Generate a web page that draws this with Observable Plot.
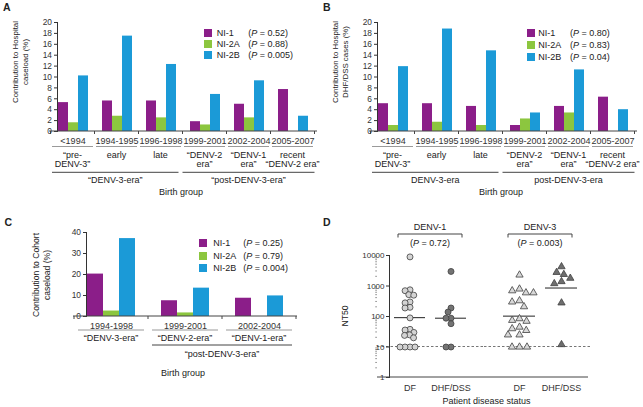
<!DOCTYPE html>
<html><head><meta charset="utf-8">
<script src="https://cdn.jsdelivr.net/npm/d3@7"></script>
<script src="https://cdn.jsdelivr.net/npm/@observablehq/plot@0.6"></script>
<style>
body{margin:0;background:#fff;}
#fig{position:relative;width:643px;height:407px;overflow:hidden;background:#fff;font-family:'Liberation Sans',Arial,Helvetica,sans-serif;color:#222;}
.leg{position:absolute;font-size:9px;}
.leg .row{position:absolute;left:0;height:10px;line-height:10px;white-space:nowrap;width:120px;}
.leg .sw{position:absolute;left:0;top:1px;width:8px;height:8px;}
.leg .nm{position:absolute;top:0;}
.leg .pv{position:absolute;top:0;}
</style></head><body><div id="fig"></div>
<script>
// ---------------- data ----------------
const series = ["NI-1", "NI-2A", "NI-2B"];
const colors = ["#8b1e89", "#8cc63f", "#1b9ad7"];

const catsAB = ["<1994", "1994-1995", "1996-1998", "1999-2001", "2002-2004", "2005-2007"];
const subAB = ["“pre-\nDENV-3”", "early", "late", "“DENV-2\nera”", "“DENV-1\nera”", "recent\n“DENV-2 era”"];

const A_NI1  = [5.3, 5.6, 5.6, 1.8, 5.0, 7.7];
const A_NI2A = [1.6, 2.8, 2.5, 1.2, 2.5, 0];
const A_NI2B = [10.2, 17.5, 12.3, 6.8, 9.3, 2.8];
const A_P = ["0.52", "0.88", "0.005"];
const A_eras = ["“DENV-3-era”", "“post-DENV-3-era”"];

const B_NI1  = [5.1, 5.1, 4.6, 1.1, 4.6, 6.3];
const B_NI2A = [1.1, 1.7, 1.1, 2.3, 3.4, 0];
const B_NI2B = [11.9, 18.8, 14.8, 3.4, 11.3, 4.0];
const B_P = ["0.80", "0.83", "0.04"];
const B_eras = ["DENV-3-era", "post-DENV-3-era"];

const catsC = ["1994-1998", "1999-2001", "2002-2004"];
const subC = ["“DENV-3-era”", "“DENV-2-era”", "“DENV-1-era”"];
const C_NI1  = [20.2, 7.5, 8.7];
const C_NI2A = [2.6, 1.7, 0];
const C_NI2B = [37.1, 13.5, 9.8];
const C_P = ["0.25", "0.79", "0.004"];
const C_eras = ["“post-DENV-3-era”"];

const viruses = ["DENV-1", "DENV-3"];
const statuses = ["DF", "DHF/DSS"];
const D_P = ["0.72", "0.003"];
const D1_DF  = [9000, 750, 700, 520, 500, 300, 280, 200, 190, 90, 38, 36, 30, 25, 24, 20, 10, 10, 10, 10];
const D1_DHF = [3000, 190, 140, 88, 88, 58, 10, 10];
const D3_DF  = [2300, 800, 700, 600, 600, 330, 300, 210, 85, 75, 70, 45, 40, 35, 25, 25, 10, 10, 10];
const D3_DHF = [4300, 2800, 2400, 1800, 1400, 1200, 280, 12];
const yTicksD = [1, 10, 100, 1000, 10000];

// ---------------- helpers ----------------
const FONT = "'Liberation Sans', Arial, Helvetica, sans-serif";
const TXT = "#222";
const fig = document.getElementById("fig");
function place(node, left, top) {
  node.style.position = "absolute"; node.style.left = left + "px"; node.style.top = top + "px";
  fig.appendChild(node);
}
function addText(g, x, y, str, {size = 9, anchor = "middle", rotate = false, lh = 8.6, weight = null} = {}) {
  const t = g.append("text").attr("text-anchor", anchor).attr("font-size", size)
    .attr("fill", TXT).attr("font-family", FONT);
  if (weight) t.attr("font-weight", weight);
  if (rotate) t.attr("transform", `translate(${x},${y}) rotate(-90)`);
  else t.attr("x", x).attr("y", y);
  str.split("\n").forEach((ln, i) => {
    const ts = t.append("tspan").text(ln);
    if (!rotate) ts.attr("x", x);
    ts.attr("dy", i === 0 ? 0 : lh);
  });
  return t;
}
function pText(g, x, y, p, size = 9) {
  const t = g.append("text").attr("x", x).attr("y", y).attr("text-anchor", "middle")
    .attr("font-size", size).attr("fill", TXT).attr("font-family", FONT);
  t.append("tspan").text("(");
  t.append("tspan").attr("font-style", "italic").text("P");
  t.append("tspan").text(` = ${p})`);
}
function addLine(g, x1, y1, x2, y2, stroke, w = 1, dash = null) {
  const l = g.append("line").attr("x1", x1).attr("y1", y1).attr("x2", x2).attr("y2", y2)
    .attr("stroke", stroke).attr("stroke-width", w);
  if (dash) l.attr("stroke-dasharray", dash);
  return l;
}
function legend(left, top, gap, nmLeft, pvLeft, pvals) {
  const d = document.createElement("div");
  d.className = "leg"; d.style.left = left + "px"; d.style.top = top + "px";
  series.forEach((s, i) => {
    const r = document.createElement("div");
    r.className = "row"; r.style.top = (i * gap) + "px";
    r.innerHTML = `<span class="sw" style="background:${colors[i]}"></span><span class="nm" style="left:${nmLeft}px">${s}</span><span class="pv" style="left:${pvLeft}px">(<i>P</i> = ${pvals[i]})</span>`;
    d.appendChild(r);
  });
  fig.appendChild(d);
}
const baseStyle = {fontFamily: FONT, fontSize: "9px", color: "#333", background: "transparent", overflow: "visible"};

// ---------------- bar panels ----------------
function barPanel(c) {
  const vals = c.vals;
  const data = c.cats.flatMap((cat, i) => series.map((s, j) => ({cat, series: s, value: vals[j][i]})))
    .filter(d => d.value > 0);
  const plot = Plot.plot({
    width: c.w, height: c.h,
    marginLeft: c.mL, marginRight: c.mR, marginTop: c.mT, marginBottom: c.mB,
    style: baseStyle,
    fx: {domain: c.cats, paddingInner: c.pi, paddingOuter: c.pi / 2, axis: "bottom", tickSize: 0, tickPadding: 6, label: null},
    x: {domain: series, axis: null, padding: 0},
    y: {domain: [0, c.yMax], ticks: d3.range(0, c.yMax + 0.001, c.yStep), tickSize: 3, tickPadding: 2.5, label: null, line: true},
    color: {domain: series, range: colors},
    marks: [
      Plot.barY(data, {fx: "cat", x: "series", y: "value", fill: "series"})
    ]
  });
  place(plot, c.left, c.top);
  const svg = d3.select(plot);
  svg.selectAll('[aria-label^="y-axis"] text').attr("font-size", 8.4);
  const g = svg.append("g");
  const fx = plot.scale("fx"), y = plot.scale("y");
  const n = c.cats.length;
  const step = fx.apply(c.cats[1]) - fx.apply(c.cats[0]);
  const bw = (typeof fx.bandwidth === "number") ? fx.bandwidth : step * (1 - c.pi);
  const cx = c.cats.map(k => fx.apply(k) + bw / 2);
  const y0 = y.apply(0);
  addLine(g, c.mL, y0, c.w - c.mR, y0, "#444");
  for (let i = 0; i <= n; ++i) {
    const xb = i < n ? cx[i] - step / 2 : cx[n - 1] + step / 2;
    addLine(g, xb, y0, xb, y0 + 3, "#444");
  }
  c.cats.forEach((k, i) => {
    addLine(g, cx[i] - step / 2 + c.ulIns, y0 + c.ulY, cx[i] + step / 2 - c.ulIns, y0 + c.ulY, "#9a9a9a", 1.1);
    addText(g, cx[i], y0 + c.subY, c.subs[i], {lh: c.lh});
  });
  c.eras.forEach(e => {
    const x1 = cx[e.from] - step / 2 + e.insL, x2 = cx[e.to] + step / 2 - e.insR;
    addLine(g, x1, y0 + c.eraY, x2, y0 + c.eraY, "#444");
    addText(g, (x1 + x2) / 2, y0 + c.eraLab, e.label);
  });
  addText(g, (c.mL + c.w - c.mR) / 2 - 2, y0 + c.bgY, "Birth group");
  addText(g, c.ytx[0], c.ytY, c.ytitle[0], {rotate: true, size: c.ytSize});
  addText(g, c.ytx[1], c.ytY, c.ytitle[1], {rotate: true, size: c.ytSize});
}

barPanel({
  left: 0, top: 0, w: 320, h: 200, mL: 49, mR: 3, mT: 22, mB: 69,
  cats: catsAB, subs: subAB, vals: [A_NI1, A_NI2A, A_NI2B], yMax: 20, yStep: 2, pi: 0.295,
  ulY: 15.5, ulIns: 1.5, subY: 27.2, lh: 8.5, eraY: 41.3, eraLab: 52.2, bgY: 63.7,
  eras: [{from: 0, to: 2, insL: 1.5, insR: 4, label: A_eras[0]}, {from: 3, to: 5, insL: 0, insR: 0, label: A_eras[1]}],
  ytitle: ["Contribution to Hospital", "caseload (%)"], ytx: [17.8, 27.8], ytY: 62, ytSize: 7.9
});
barPanel({
  left: 320, top: 0, w: 323, h: 200, mL: 49, mR: 6, mT: 22, mB: 69,
  cats: catsAB, subs: subAB, vals: [B_NI1, B_NI2A, B_NI2B], yMax: 20, yStep: 2, pi: 0.295,
  ulY: 15.5, ulIns: 1.5, subY: 27.2, lh: 8.5, eraY: 41.3, eraLab: 52.2, bgY: 63.7,
  eras: [{from: 0, to: 2, insL: 1.5, insR: 4, label: B_eras[0]}, {from: 3, to: 5, insL: 0, insR: 0, label: B_eras[1]}],
  ytitle: ["Contribution to Hospital", "DHF/DSS cases (%)"], ytx: [17.8, 27.8], ytY: 62, ytSize: 7.9
});
barPanel({
  left: 0, top: 200, w: 320, h: 207, mL: 73, mR: 23, mT: 32, mB: 91,
  cats: catsC, subs: subC, vals: [C_NI1, C_NI2A, C_NI2B], yMax: 40, yStep: 10, pi: 0.32,
  ulY: 14, ulIns: 4, subY: 24.9, lh: 8.5, eraY: 29, eraLab: 41.2, bgY: 59.9,
  eras: [{from: 1, to: 2, insL: 4, insR: 4, label: C_eras[0]}],
  ytitle: ["Contribution to Cohort", "caseload (%)"], ytx: [39, 50], ytY: 75, ytSize: 8.6
});
legend(204, 28, 11, 12.7, 44.3, A_P);
legend(526.7, 28, 12, 11.6, 43.3, B_P);
legend(199.3, 238, 12.5, 14, 44, C_P);

// ---------------- panel D (two halves, one per virus) ----------------
const geo = V => Math.exp(d3.mean(V, Math.log));
function dPanel(c) {
  const data = c.vals.flatMap((arr, j) => arr.map(v => ({status: statuses[j], value: v})));
  const H = 207, mT = 55, mB = 30;
  const plot = Plot.plot({
    width: c.w, height: H, marginLeft: c.mL, marginRight: c.mR, marginTop: mT, marginBottom: mB,
    style: baseStyle,
    fx: {domain: statuses, paddingInner: 0, paddingOuter: c.po, align: c.align, axis: "bottom", tickSize: 0, tickPadding: 7, label: null},
    y: {type: "log", domain: [1, 10000], ticks: yTicksD, tickFormat: d => `${d}`, tickSize: 3, tickPadding: 2,
        label: null, line: true, axis: c.yAxis ? "left" : null},
    color: {domain: statuses, range: c.fills},
    marks: [
      Plot.tickY(data, Plot.groupZ({y: geo}, {fx: "status", y: "value", stroke: "#222", strokeWidth: 1, insetLeft: 5, insetRight: 5})),
      Plot.dot(data, Plot.dodgeX({anchor: "middle", padding: c.pad, r: c.r},
        {fx: "status", y: "value", r: c.r, fill: "status", stroke: "#404040", strokeWidth: 0.8, symbol: c.symbol}))
    ]
  });
  place(plot, c.left, 200);
  const svg = d3.select(plot);
  svg.selectAll('[aria-label^="y-axis"] text').attr("font-size", 8);
  const fx = plot.scale("fx"), y = plot.scale("y");
  const step = fx.apply(statuses[1]) - fx.apply(statuses[0]);
  const bw = (typeof fx.bandwidth === "number") ? fx.bandwidth : step;
  const back = svg.insert("g", ":first-child");
  addLine(back, c.mL, y.apply(10), c.w - c.mR + c.dashExt, y.apply(10), "#666", 0.9, "2.5,2");
  const g = svg.append("g");
  addLine(g, c.mL, y.apply(1), c.w - c.mR, y.apply(1), "#444");
  if (c.yAxis) {
    for (const d of [1, 10, 100, 1000]) for (let k = 2; k <= 9; ++k) {
      const yy = y.apply(k * d);
      addLine(g, c.mL - 1.8, yy, c.mL, yy, "#555", 0.6);
    }
    addText(g, 28, (mT + H - mB) / 2, "NT50", {rotate: true, size: 8.6});
    addText(g, 166.5, 204.2, "Patient disease status");
  }
  const cx = (fx.apply(statuses[0]) + fx.apply(statuses[1]) + bw) / 2;
  addText(g, cx, 30.2, c.virus);
  g.append("path").attr("d", `M${cx - 32},37.5V34H${cx + 32}V37.5`).attr("fill", "none").attr("stroke", "#444");
  pText(g, cx, 46.2, c.p);
}
dPanel({virus: viruses[0], p: D_P[0], vals: [D1_DF, D1_DHF], left: 320, w: 164, mL: 57, mR: 0,
  po: 0.2857, align: 0.479, yAxis: true, r: 3, pad: -1, symbol: "circle", fills: ["#d4d4d4", "#737373"], dashExt: 0});
dPanel({virus: viruses[1], p: D_P[1], vals: [D3_DF, D3_DHF], left: 484, w: 159, mL: 0, mR: 55,
  po: 0.238, align: 0.7, yAxis: false, r: 2.7, pad: 2.1, symbol: "triangle", fills: ["#d8d8d8", "#6e6e6e"], dashExt: 2});

// ---------------- panel letters ----------------
{
  const ov = d3.create("svg").attr("width", 643).attr("height", 407).style("pointer-events", "none");
  addText(ov, 3, 11, "A", {anchor: "start", size: 10.5, weight: "bold"});
  addText(ov, 323, 11, "B", {anchor: "start", size: 10.5, weight: "bold"});
  addText(ov, 4.5, 225.5, "C", {anchor: "start", size: 10.5, weight: "bold"});
  addText(ov, 323, 225.5, "D", {anchor: "start", size: 10.5, weight: "bold"});
  place(ov.node(), 0, 0);
}
</script></body></html>
